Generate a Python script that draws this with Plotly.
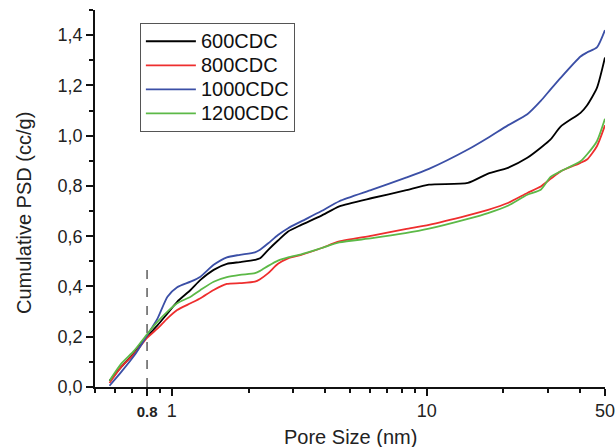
import numpy as np
import plotly.graph_objects as go

# ---- data ----
pore_size = [0.57, 0.634, 0.714, 0.8, 0.88, 0.962, 1.05, 1.185, 1.296, 1.46, 1.645,
             1.85, 2.12, 2.22, 2.39, 2.61, 2.86, 3.22, 3.85, 4.54, 6.11, 8.24, 10.2,
             14.5, 17.4, 20.8, 24.8, 28.0, 30.6, 33.5, 40.1, 42.5, 46.5, 50.0]

cdc600 = [0.025, 0.08, 0.137, 0.20, 0.246, 0.293, 0.339, 0.386, 0.426, 0.466, 0.49,
          0.497, 0.506, 0.512, 0.546, 0.583, 0.619, 0.645, 0.681, 0.719, 0.752, 0.782,
          0.805, 0.812, 0.849, 0.872, 0.912, 0.952, 0.985, 1.036, 1.091, 1.12, 1.19, 1.311]
cdc800 = [0.016, 0.08, 0.133, 0.195, 0.233, 0.273, 0.306, 0.333, 0.353, 0.386, 0.41,
          0.413, 0.419, 0.429, 0.453, 0.490, 0.512, 0.526, 0.552, 0.579, 0.602, 0.628,
          0.645, 0.683, 0.705, 0.732, 0.772, 0.798, 0.828, 0.858, 0.892, 0.905, 0.958, 1.041]
cdc1000 = [0.005, 0.06, 0.126, 0.205, 0.273, 0.359, 0.397, 0.419, 0.439, 0.486, 0.516,
           0.526, 0.536, 0.546, 0.572, 0.605, 0.632, 0.659, 0.699, 0.739, 0.785, 0.832,
           0.868, 0.945, 0.992, 1.041, 1.085, 1.138, 1.184, 1.23, 1.315, 1.331, 1.351, 1.42]
cdc1200 = [0.025, 0.093, 0.146, 0.21, 0.26, 0.30, 0.333, 0.359, 0.386, 0.419, 0.437,
           0.446, 0.453, 0.462, 0.482, 0.503, 0.516, 0.528, 0.552, 0.575, 0.592, 0.612,
           0.63, 0.669, 0.692, 0.721, 0.765, 0.785, 0.836, 0.858, 0.898, 0.925, 0.978, 1.067]

series_names = ["600CDC", "800CDC", "1000CDC", "1200CDC"]
series_values = [cdc600, cdc800, cdc1000, cdc1200]
series_colors = ["#000000", "#ee2e2e", "#3b4fa6", "#5cb947"]

x_tickvals = [0.8, 1, 10, 50]
x_ticktext = ["<span style='font-size:15px'><b>0.8</b></span>", "1", "10", "50"]
x_minor = [0.5, 0.6, 0.7, 0.9, 2, 3, 4, 5, 6, 7, 8, 9, 20, 30, 40]
ref_x = 0.8
ref_top = 0.49

fig = go.Figure()
for name, vals, col in zip(series_names, series_values, series_colors):
    fig.add_trace(go.Scatter(x=pore_size, y=vals, mode="lines",
                             name="<span style='font-size:20px'>%s</span>" % name,
                             line=dict(color=col, width=1.8, shape="spline", smoothing=0.6)))

fig.add_shape(type="line", xref="x", yref="y", x0=ref_x, x1=ref_x, y0=0, y1=ref_top,
              line=dict(color="#444444", width=1.3, dash="dash"), layer="below")

font_family = "Liberation Sans, Arial, sans-serif"
fig.update_layout(
    width=615, height=447,
    margin=dict(l=95, r=10, t=10, b=60, autoexpand=False),
    paper_bgcolor="white", plot_bgcolor="white",
    separators=",.",
    font=dict(family=font_family, size=18, color="#222222"),
    showlegend=True,
    legend=dict(x=0.088, y=0.965, xanchor="left", yanchor="top",
                bgcolor="white", bordercolor="#555555", borderwidth=1,
                font=dict(size=16.2, color="#111111"), itemwidth=50,
                tracegroupgap=0),
    xaxis=dict(type="log", range=[np.log10(0.5), np.log10(50.02)],
               tickmode="array", tickvals=x_tickvals, ticktext=x_ticktext,
               ticklabeloverflow="allow", automargin=False,
               ticks="outside", ticklen=7, tickwidth=1.5, tickcolor="#111111",
               showline=True, linecolor="#111111", linewidth=1.5,
               showgrid=False, zeroline=False,
               minor=dict(tickmode="array", tickvals=x_minor, ticks="outside",
                          ticklen=4, tickwidth=1.5, tickcolor="#111111", showgrid=False)),
    yaxis=dict(range=[0, 1.5], tickmode="linear", tick0=0, dtick=0.2, tickformat=".1f",
               automargin=False,
               ticks="outside", ticklen=7, tickwidth=1.5, tickcolor="#111111",
               showline=True, linecolor="#111111", linewidth=1.5,
               showgrid=False, zeroline=False,
               minor=dict(dtick=0.1, ticks="outside", ticklen=4, tickwidth=1.5,
                          tickcolor="#111111", showgrid=False)),
)

fig.add_annotation(text="Cumulative PSD (cc/g)", xref="paper", yref="paper",
                   x=-0.1405, y=0.4625, textangle=-90, showarrow=False,
                   font=dict(size=20, color="#222222"), xanchor="center", yanchor="middle")
fig.add_annotation(text="Pore Size (nm)", xref="paper", yref="paper",
                   x=0.5, y=-0.1335, showarrow=False,
                   font=dict(size=20, color="#222222"), xanchor="center", yanchor="middle")

fig.write_html("out.html")
